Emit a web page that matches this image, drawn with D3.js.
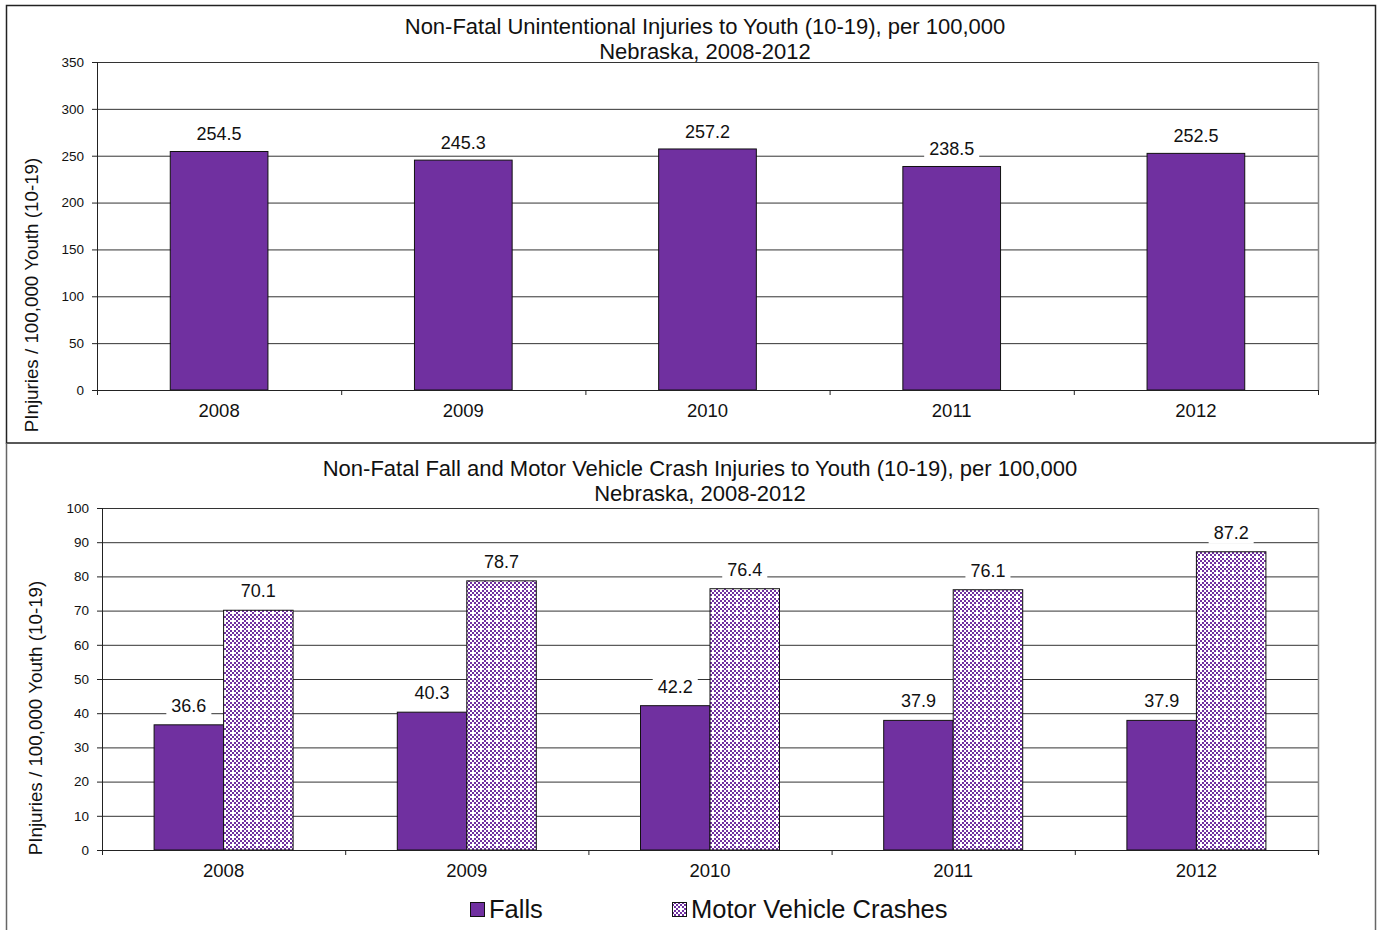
<!DOCTYPE html>
<html><head><meta charset="utf-8">
<script src="https://cdn.jsdelivr.net/npm/d3@7"></script>
<style>body{margin:0;background:#fff}svg{display:block}svg text{font-family:"Liberation Sans",Arial,sans-serif}</style>
</head><body>
<svg id="c" width="1381" height="930"></svg>
<script>
const years = ["2008","2009","2010","2011","2012"];
const totalInjuries = [254.5,245.3,257.2,238.5,252.5];
const falls = [36.6,40.3,42.2,37.9,37.9];
const motorVehicle = [70.1,78.7,76.4,76.1,87.2];
const topTicks = [0,50,100,150,200,250,300,350];
const bottomTicks = [0,10,20,30,40,50,60,70,80,90,100];
const seriesNames = ["Falls","Motor Vehicle Crashes"];

const svg = d3.select("#c");
const purple = "#7030A0";

const defs = svg.append("defs");
const pat = defs.append("pattern").attr("id","chk").attr("patternUnits","userSpaceOnUse")
  .attr("width",8).attr("height",8);
pat.append("rect").attr("width",8).attr("height",8).attr("fill","#fff");
[[0,0],[4,0],[2,2],[6,2],[0,4],[4,4],[2,6],[6,6]].forEach(([x,y])=>{
  pat.append("rect").attr("x",x).attr("y",y).attr("width",2).attr("height",2).attr("fill",purple);
});
pat.append("rect").attr("x",0).attr("y",4).attr("width",2).attr("height",2).attr("fill","#fff");

// panel borders
svg.append("rect").attr("x",6.5).attr("y",5.5).attr("width",1369).attr("height",437.5)
  .attr("fill","none").attr("stroke","#222").attr("stroke-width",1.5);
svg.append("path").attr("d","M6.5,443 V930 M1375.5,443 V930").attr("stroke","#666").attr("stroke-width",1.5).attr("fill","none");

function title(lines, cx, y0){
  lines.forEach((t,i)=>svg.append("text").attr("x",cx).attr("y",y0+i*25).attr("text-anchor","middle")
    .attr("font-size",22).attr("fill","#111").text(t));
}
function ylabel(cx, cy){
  svg.append("text").attr("transform",`translate(${cx},${cy}) rotate(-90)`).attr("text-anchor","middle")
    .attr("font-size",18.8).attr("fill","#111").text("PInjuries / 100,000 Youth (10-19)");
}
function label(g, x, y, txt){
  const t = g.append("text").attr("x",x).attr("y",y).attr("text-anchor","middle").attr("dominant-baseline","central")
    .attr("font-size",18).attr("fill","#111").text(txt);
  const bb = t.node().getBBox();
  g.insert("rect", () => t.node()).attr("x",bb.x-5).attr("y",bb.y-1).attr("width",bb.width+10).attr("height",bb.height+2).attr("fill","#fff");
}
function styleAxisText(sel, size){
  sel.selectAll("text").attr("font-size",size).attr("fill","#111").attr("font-family","Liberation Sans, Arial, sans-serif");
}

// ---------- top chart ----------
(function(){
  const L=97,R=1318,T=62,B=390;
  const x = d3.scaleBand().domain(years).range([L,R]).paddingInner(0).paddingOuter(0);
  const y = d3.scaleLinear().domain([0,350]).range([B,T]);
  const g = svg.append("g");
  g.selectAll("line.grid").data(topTicks.filter(d=>d>0)).join("line")
    .attr("x1",L).attr("x2",R).attr("y1",d=>y(d)+0.5).attr("y2",d=>y(d)+0.5).attr("stroke","#333").attr("stroke-width",1);
  g.append("line").attr("x1",R+0.5).attr("x2",R+0.5).attr("y1",T).attr("y2",B).attr("stroke","#888").attr("stroke-width",1.5);
  const bw = x.bandwidth()*0.4;
  g.selectAll("rect.bar").data(totalInjuries).join("rect")
    .attr("x",(d,i)=>x(years[i])+x.bandwidth()/2-bw/2).attr("width",bw)
    .attr("y",d=>y(d)).attr("height",d=>B-y(d)).attr("fill",purple).attr("stroke","#111").attr("stroke-width",1);
  const ya = g.append("g").attr("transform",`translate(${L},0)`).call(d3.axisLeft(y).tickValues(topTicks).tickSize(5).tickPadding(8));
  ya.select(".domain").attr("stroke","#222").attr("d",`M0.5,${T}V${B}`);
  styleAxisText(ya, 13.5);
  ya.selectAll("line").attr("stroke","#222");
  const xa = g.append("g").attr("transform",`translate(0,${B})`).call(d3.axisBottom(x).tickSize(0).tickPadding(14));
  xa.select(".domain").attr("stroke","#222");
  styleAxisText(xa, 18.5);
  g.selectAll("line.xt").data(d3.range(6)).join("line")
    .attr("x1",i=>L+i*x.step()+0.5).attr("x2",i=>L+i*x.step()+0.5).attr("y1",B).attr("y2",B+5).attr("stroke","#222");
  totalInjuries.forEach((d,i)=>label(g, x(years[i])+x.bandwidth()/2, y(d)-17, d.toFixed(1)));
  title(["Non-Fatal Unintentional Injuries to Youth (10-19), per 100,000","Nebraska, 2008-2012"], 705, 34);
  ylabel(38, 295);
})();

// ---------- bottom chart ----------
(function(){
  const L=102,R=1318,T=508,B=850;
  const x = d3.scaleBand().domain(years).range([L,R]);
  const y = d3.scaleLinear().domain([0,100]).range([B,T]);
  const g = svg.append("g");
  g.selectAll("line.grid").data(bottomTicks.filter(d=>d>0)).join("line")
    .attr("x1",L).attr("x2",R).attr("y1",d=>y(d)+0.5).attr("y2",d=>y(d)+0.5).attr("stroke","#333").attr("stroke-width",1);
  g.append("line").attr("x1",R+0.5).attr("x2",R+0.5).attr("y1",T).attr("y2",B+4).attr("stroke","#888").attr("stroke-width",1.5);
  const bw = 69.5;
  const series = [falls, motorVehicle];
  series.forEach((arr,s)=>{
    g.selectAll("rect.s"+s).data(arr).join("rect")
      .attr("x",(d,i)=>x(years[i])+x.bandwidth()/2 + (s===0?-bw:0)).attr("width",bw)
      .attr("y",d=>y(d)).attr("height",d=>B-y(d))
      .attr("fill",s===0?purple:"url(#chk)").attr("stroke","#111").attr("stroke-width",1);
  });
  const ya = g.append("g").attr("transform",`translate(${L},0)`).call(d3.axisLeft(y).tickValues(bottomTicks).tickSize(5).tickPadding(8));
  ya.select(".domain").attr("stroke","#222").attr("d",`M0.5,${T}V${B}`);
  styleAxisText(ya, 13.5);
  ya.selectAll("line").attr("stroke","#222");
  const xa = g.append("g").attr("transform",`translate(0,${B})`).call(d3.axisBottom(x).tickSize(0).tickPadding(14));
  xa.select(".domain").attr("stroke","#222");
  styleAxisText(xa, 18.5);
  g.selectAll("line.xt").data(d3.range(6)).join("line")
    .attr("x1",i=>L+i*x.step()+0.5).attr("x2",i=>L+i*x.step()+0.5).attr("y1",B).attr("y2",B+5).attr("stroke","#222");
  series.forEach((arr,s)=>arr.forEach((d,i)=>
    label(g, x(years[i])+x.bandwidth()/2 + (s===0?-bw/2:bw/2), y(d)-19, d.toFixed(1))));
  title(["Non-Fatal Fall and Motor Vehicle Crash Injuries to Youth (10-19), per 100,000","Nebraska, 2008-2012"], 700, 476);
  ylabel(42, 718);
  // legend
  const lg = svg.append("g");
  const lx = [470, 672];
  seriesNames.forEach((n,i)=>{
    lg.append("rect").attr("x",lx[i]+0.5).attr("y",902.5).attr("width",14).attr("height",14)
      .attr("fill",i===0?purple:"url(#chk)").attr("stroke","#111");
    lg.append("text").attr("x",lx[i]+19).attr("y",918).attr("font-size",25.5).attr("fill","#111").text(n);
  });
})();
</script>
</body></html>
